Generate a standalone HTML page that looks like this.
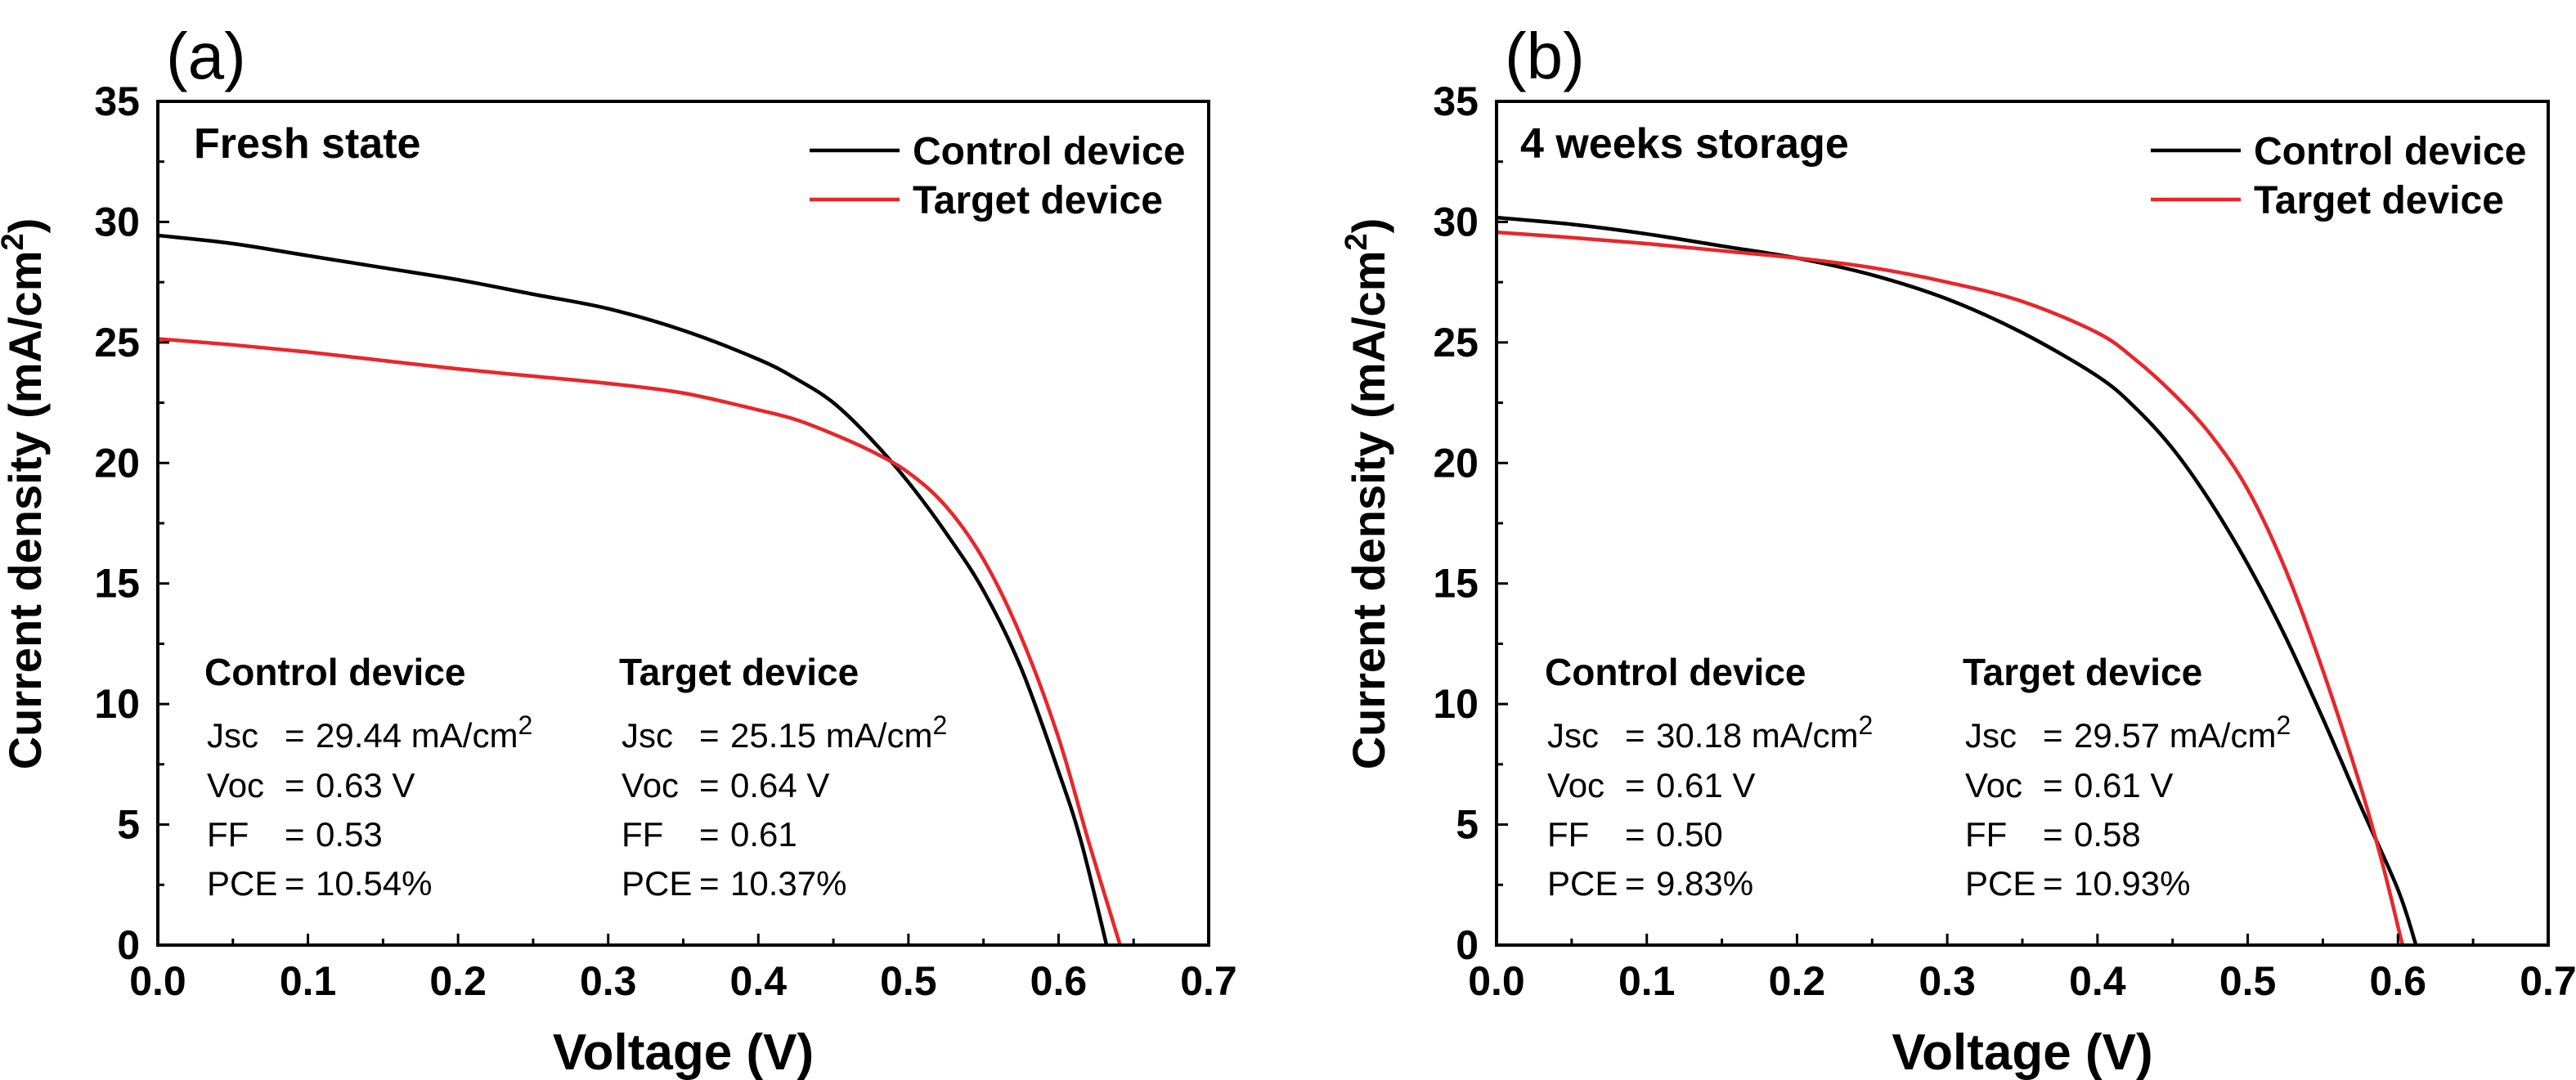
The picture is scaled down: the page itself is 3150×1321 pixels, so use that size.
<!DOCTYPE html>
<html><head><meta charset="utf-8"><style>
html,body{margin:0;padding:0;background:#fff;}
svg{display:block;font-family:"Liberation Sans Narrow","Liberation Sans",sans-serif;}
</style></head><body>
<svg id="fig" width="3150" height="1321" viewBox="0 0 3150 1321" xmlns="http://www.w3.org/2000/svg"></svg>
<script>
const xTicks = [0,0.1,0.2,0.3,0.4,0.5,0.6,0.7];
const xTickLabels = ["0.0","0.1","0.2","0.3","0.4","0.5","0.6","0.7"];
const yTicks = [0,5,10,15,20,25,30,35];
const yTickLabels = ["0","5","10","15","20","25","30","35"];
const aControlV = [0,0.05,0.1,0.15,0.2,0.25,0.3,0.35,0.4,0.425,0.45,0.475,0.5,0.525,0.55,0.575,0.6,0.615,0.632];
const aControlJ = [29.44,29.1,28.6,28.1,27.6,27.0,26.4,25.5,24.3,23.5,22.5,21.0,19.2,17.1,14.7,11.5,7.2,4.3,0];
const aTargetV = [0,0.05,0.1,0.15,0.2,0.25,0.3,0.35,0.4,0.425,0.45,0.475,0.5,0.525,0.55,0.575,0.6,0.62,0.641];
const aTargetJ = [25.15,24.9,24.6,24.25,23.9,23.6,23.3,22.9,22.2,21.8,21.2,20.5,19.6,18.2,16.0,12.8,8.6,4.3,0];
const bControlV = [0,0.05,0.1,0.15,0.2,0.25,0.3,0.35,0.4,0.425,0.45,0.475,0.5,0.525,0.55,0.575,0.6,0.612];
const bControlJ = [30.18,29.9,29.5,29.0,28.5,27.8,26.8,25.4,23.6,22.3,20.6,18.4,15.8,12.8,9.4,5.8,2.3,0];
const bTargetV = [0,0.05,0.1,0.15,0.2,0.25,0.3,0.35,0.4,0.425,0.45,0.475,0.5,0.525,0.55,0.575,0.59,0.603];
const bTargetJ = [29.57,29.35,29.1,28.8,28.5,28.1,27.5,26.7,25.4,24.3,22.9,21.2,18.9,15.6,11.4,6.6,3.3,0];

const NS="http://www.w3.org/2000/svg";
const svg=document.getElementById('fig');
function mk(tag,attrs,parent,text){const e=document.createElementNS(NS,tag);for(const k in attrs)e.setAttribute(k,attrs[k]);if(text!==undefined)e.textContent=text;(parent||svg).appendChild(e);return e;}

function smooth(pts){let d=`M${pts[0][0]},${pts[0][1]}`;for(let i=0;i<pts.length-1;i++){const p0=pts[Math.max(0,i-1)],p1=pts[i],p2=pts[i+1],p3=pts[Math.min(pts.length-1,i+2)];const c1=[p1[0]+(p2[0]-p0[0])/6,p1[1]+(p2[1]-p0[1])/6];const c2=[p2[0]-(p3[0]-p1[0])/6,p2[1]-(p3[1]-p1[1])/6];d+=` C${c1[0]},${c1[1]} ${c2[0]},${c2[1]} ${p2[0]},${p2[1]}`;}return d;}

function panel(cfg){
  const g=mk('g',{});
  
  
  const L=cfg.left,R=cfg.right,T=124,B=1156;
  const xs=v=>L+(v-0)/(0.7)*(R-L);
  const ys=v=>B-(v/35)*(B-T);
  const series=[[cfg.cV,cfg.cJ,'#000','control-curve'],[cfg.tV,cfg.tJ,'#e8262b','target-curve']];
  series.forEach(s=>{const p=mk('path',{d:smooth(s[0].map((v,i)=>[xs(v),ys(s[1][i])])),fill:'none',stroke:s[2],'stroke-width':4.5},g);
    
    });
  const fr=mk('rect',{x:L,y:T,width:R-L,height:B-T,fill:'none',stroke:'#000','stroke-width':4},g);
  
  
  for(let v=0;v<=0.7001;v+=0.05){const x=xs(v);const maj=Math.abs(v*10-Math.round(v*10))<1e-6;mk('line',{x1:x,x2:x,y1:B,y2:B-(maj?14:8),stroke:'#000','stroke-width':3},g);}
  xTicks.forEach((v,i)=>{const t=mk('text',{x:xs(v),y:1217,'text-anchor':'middle','font-size':50,'font-weight':'bold'},g,xTickLabels[i]);
    
    });
  for(let v=0;v<=35.001;v+=2.5){const y=ys(v);const maj=Math.abs(v/5-Math.round(v/5))<1e-6;mk('line',{x1:L,x2:L+(maj?14:8),y1:y,y2:y,stroke:'#000','stroke-width':3},g);}
  yTicks.forEach((v,i)=>{const t=mk('text',{x:L-22,y:ys(v)+17,'text-anchor':'end','font-size':50,'font-weight':'bold'},g,yTickLabels[i]);
    
    });
  const xt=mk('text',{x:(L+R)/2,y:1308,'text-anchor':'middle','font-size':62,'font-weight':'bold','font-family':'Liberation Sans, sans-serif'},g,'Voltage (V)');
  
  
  const yt=mk('text',{transform:`translate(${cfg.ytx},604) rotate(-90)`,'text-anchor':'middle','font-size':56,'font-weight':'bold','font-family':'Liberation Sans, sans-serif'},g);
  
  
  yt.innerHTML='Current density (mA/cm<tspan dy="-22" font-size="38">2</tspan><tspan dy="22">)</tspan>';
  const pl=mk('text',{x:L+10,y:96,'font-size':80,'font-family':'Liberation Sans, sans-serif'},g,cfg.label);
  
  
  const st=mk('text',{x:cfg.stateX,y:193,'font-size':52,'font-weight':'bold','font-family':'Liberation Sans, sans-serif'},g,cfg.state);
  
  
  [['Control device','#000',184,'legend-control'],['Target device','#e8262b',244,'legend-target']].forEach(l=>{
    const ln=mk('line',{x1:cfg.legX,x2:cfg.legX+110,y1:l[2],y2:l[2],stroke:l[1],'stroke-width':4.5},g);
    
    
    const tx=mk('text',{x:cfg.legX+126,y:l[2]+17,'font-size':48,'font-weight':'bold','font-family':'Liberation Sans, sans-serif'},g,l[0]);
    
    
  });
  cfg.ann.forEach(a=>{
    const h=mk('text',{x:a.x,y:838,'font-size':46,'font-weight':'bold','font-family':'Liberation Sans, sans-serif'},g,a.title);
    
    
    const rows=[['Jsc',a.jsc+' mA/cm',914,true],['Voc',a.voc+' V',975,false],['FF',a.ff,1035,false],['PCE',a.pce+'%',1095,false]];
    rows.forEach(r=>{
      const t1=mk('text',{x:a.x+3,y:r[2],'font-size':42},g,r[0]);
      
      
      const te=mk('text',{x:a.x+98,y:r[2],'font-size':42},g,'=');
      
      
      const t2=mk('text',{x:a.x+136,y:r[2],'font-size':42},g,r[1]);
      
      
      if(r[3]){mk('tspan',{dy:-16,'font-size':32},t2,'2');}
    });
  });
}
panel({name:'panel-a',left:193,right:1478,ytx:50,label:'(a)',state:'Fresh state',stateX:237,legX:990,
  cV:aControlV,cJ:aControlJ,tV:aTargetV,tJ:aTargetJ,
  ann:[{x:250,title:'Control device',jsc:'29.44',voc:'0.63',ff:'0.53',pce:'10.54'},{x:757,title:'Target device',jsc:'25.15',voc:'0.64',ff:'0.61',pce:'10.37'}]});
panel({name:'panel-b',left:1830,right:3116,ytx:1693,label:'(b)',state:'4 weeks storage',stateX:1859,legX:2630,
  cV:bControlV,cJ:bControlJ,tV:bTargetV,tJ:bTargetJ,
  ann:[{x:1889,title:'Control device',jsc:'30.18',voc:'0.61',ff:'0.50',pce:'9.83'},{x:2400,title:'Target device',jsc:'29.57',voc:'0.61',ff:'0.58',pce:'10.93'}]});
</script>
</body></html>
